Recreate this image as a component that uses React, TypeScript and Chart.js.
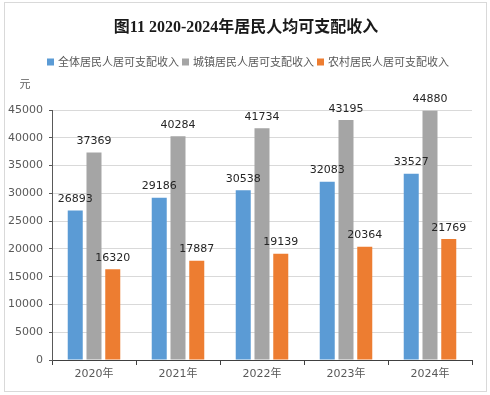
import React, { useEffect, useRef } from "react";
import { Chart, registerables } from "chart.js";

Chart.register(...registerables);

const chartTitle = "图11 2020-2024年居民人均可支配收入";
const unitLabel = "元";
const categories = ["2020年", "2021年", "2022年", "2023年", "2024年"];
const seriesNames = ["全体居民人居可支配收入", "城镇居民人居可支配收入", "农村居民人居可支配收入"];
const allResidents = [26893, 29186, 30538, 32083, 33527];
const urbanResidents = [37369, 40284, 41734, 43195, 44880];
const ruralResidents = [16320, 17887, 19139, 20364, 21769];
const seriesColors = ["#5B9BD5", "#A5A5A5", "#ED7D31"];
const yMax = 45000;
const yStep = 5000;

const CJK = "'Noto Sans CJK SC'";

const decorPlugin = {
  id: "decor",
  beforeDraw(chart: any) {
    const ctx = chart.ctx;
    ctx.save();
    ctx.fillStyle = "#ffffff";
    ctx.fillRect(0, 0, chart.width, chart.height);
    ctx.strokeStyle = "#d9d9d9";
    ctx.lineWidth = 1;
    ctx.strokeRect(4.5, 2.5, 482, 389);
    ctx.restore();
  },
  afterDraw(chart: any) {
    const ctx = chart.ctx;
    ctx.save();
    // title
    ctx.fillStyle = "#1a1a1a";
    ctx.font = `bold 16px 'Liberation Serif', ${CJK}`;
    ctx.textAlign = "center";
    ctx.textBaseline = "middle";
    ctx.fillText(chartTitle, 246, 28);
    // unit
    ctx.fillStyle = "#595959";
    ctx.font = `11px ${CJK}`;
    ctx.fillText(unitLabel, 25, 84);
    // legend
    ctx.font = `11px ${CJK}`;
    ctx.textAlign = "left";
    const ds = chart.data.datasets;
    const box = 7;
    const gap = 4;
    const itemGap = 3;
    let total = 0;
    const widths = ds.map((d: any) => ctx.measureText(d.label).width);
    widths.forEach((w: number) => (total += box + gap + w));
    total += itemGap * (ds.length - 1);
    let x = 248 - total / 2;
    const y = 62;
    ds.forEach((d: any, i: number) => {
      ctx.fillStyle = d.backgroundColor;
      ctx.fillRect(x, y - box / 2, box, box);
      ctx.fillStyle = "#595959";
      ctx.fillText(d.label, x + box + gap, y);
      x += box + gap + widths[i] + itemGap;
    });
    ctx.restore();
  },
  afterDatasetsDraw(chart: any) {
    const ctx = chart.ctx;
    ctx.save();
    ctx.fillStyle = "#262626";
    ctx.font = "11px 'DejaVu Sans'";
    ctx.textAlign = "center";
    ctx.textBaseline = "alphabetic";
    chart.data.datasets.forEach((d: any, di: number) => {
      const meta = chart.getDatasetMeta(di);
      meta.data.forEach((el: any, i: number) => {
        ctx.fillText(String(d.data[i]), el.x, el.y - 8.5);
      });
    });
    ctx.restore();
  },
};

export default function App() {
  const ref = useRef<HTMLCanvasElement | null>(null);
  useEffect(() => {
    if (!ref.current) return;
    const chart = new Chart(ref.current, {
      type: "bar",
      data: {
        labels: categories,
        datasets: [
          { label: seriesNames[0], data: allResidents, backgroundColor: seriesColors[0] },
          { label: seriesNames[1], data: urbanResidents, backgroundColor: seriesColors[1] },
          { label: seriesNames[2], data: ruralResidents, backgroundColor: seriesColors[2] },
        ],
      },
      options: {
        responsive: false,
        animation: false,
        devicePixelRatio: 1,
        layout: { padding: { top: 110, left: 0, right: 18, bottom: 0 } },
        datasets: { bar: { categoryPercentage: 0.67, barPercentage: 0.8 } },
        plugins: {
          legend: { display: false },
          title: { display: false },
          tooltip: { enabled: false },
        },
        scales: {
          x: {
            grid: {
              display: true,
              offset: true,
              drawOnChartArea: false,
              drawTicks: true,
              tickLength: 5,
              color: "#404040",
            },
            border: { display: true, color: "#404040", width: 1 },
            ticks: {
              color: "#595959",
              padding: 3,
              font: { size: 11, family: `'DejaVu Sans', ${CJK}` },
            },
            afterFit: (s: any) => {
              s.height = 35;
            },
          },
          y: {
            min: 0,
            max: yMax,
            ticks: {
              stepSize: yStep,
              color: "#595959",
              padding: 6,
              font: { size: 11, family: "'DejaVu Sans'" },
              callback: (v: any) => String(v),
            },
            grid: { color: "#d9d9d9", tickColor: "#595959", tickLength: 3 },
            border: { display: true, color: "#595959", width: 1 },
            afterFit: (s: any) => {
              s.width = 52;
            },
          },
        },
      },
      plugins: [decorPlugin],
    });
    return () => chart.destroy();
  }, []);
  return (
    <div style={{ position: "fixed", left: 0, top: 0, width: 490, height: 395, background: "#fff" }}>
      <canvas ref={ref} width={490} height={395} style={{ display: "block" }} />
    </div>
  );
}
